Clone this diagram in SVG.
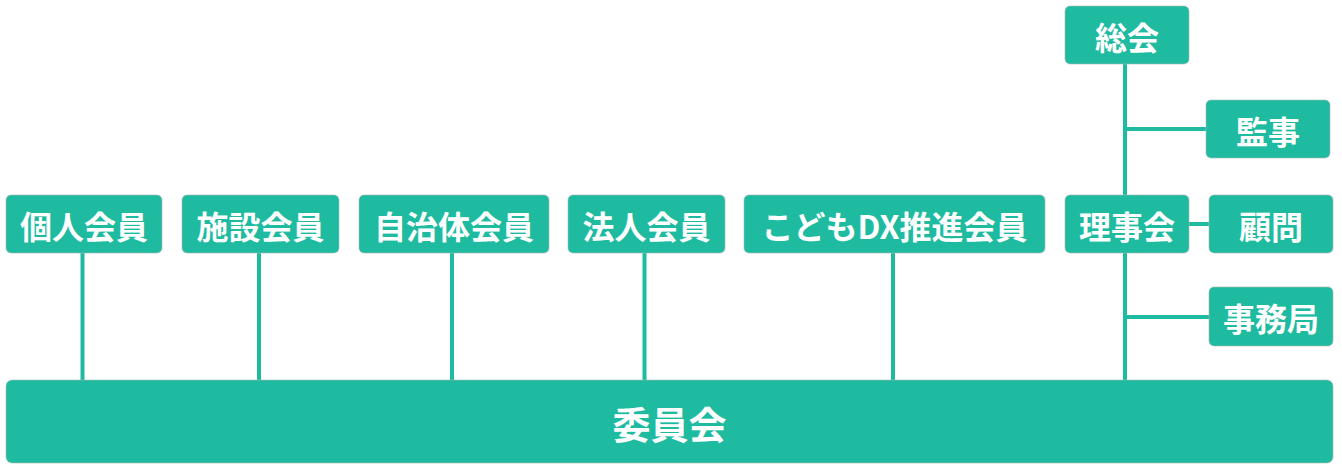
<svg xmlns="http://www.w3.org/2000/svg" width="1342" height="465" viewBox="0 0 1342 465">
<style>
.box{fill:#1ebba0;stroke:#a9b9b5;stroke-width:0.6}
.lbl{font-family:"Noto Sans CJK JP","Noto Sans",sans-serif;font-weight:bold;font-size:32px;fill:#ffffff;text-anchor:middle;dominant-baseline:central}
.big{font-size:38px}
.con{stroke:#1ebba0;stroke-width:4;fill:none}
</style>
<rect width="1342" height="465" fill="#ffffff"/>
<g id="connectors">
<line class="con" x1="82.5" y1="253" x2="82.5" y2="381"/>
<line class="con" x1="259" y1="253" x2="259" y2="381"/>
<line class="con" x1="452" y1="253" x2="452" y2="381"/>
<line class="con" x1="644.5" y1="253" x2="644.5" y2="381"/>
<line class="con" x1="893" y1="253" x2="893" y2="381"/>
<line class="con" x1="1125" y1="64" x2="1125" y2="381"/>
<line class="con" x1="1125" y1="129" x2="1206" y2="129"/>
<line class="con" x1="1189" y1="224" x2="1209" y2="224"/>
<line class="con" x1="1125" y1="317" x2="1209" y2="317"/>
</g>
<g id="n-kojin"><rect class="box" x="6" y="195" width="156" height="58" rx="5"/><text class="lbl" x="84" y="224.5">個人会員</text></g>
<g id="n-shisetsu"><rect class="box" x="182" y="195" width="157" height="58" rx="5"/><text class="lbl" x="260.5" y="224.5">施設会員</text></g>
<g id="n-jichitai"><rect class="box" x="359" y="195" width="190" height="58" rx="5"/><text class="lbl" x="454" y="224.5">自治体会員</text></g>
<g id="n-hojin"><rect class="box" x="568" y="195" width="157" height="58" rx="5"/><text class="lbl" x="646.5" y="224.5">法人会員</text></g>
<g id="n-kodomo"><rect class="box" x="744" y="195" width="301" height="58" rx="5"/><text class="lbl" x="894.5" y="224.5">こどもDX推進会員</text></g>
<g id="n-sokai"><rect class="box" x="1065" y="6" width="124" height="58" rx="5"/><text class="lbl" x="1127" y="35.5">総会</text></g>
<g id="n-kanji"><rect class="box" x="1206" y="100" width="124" height="58" rx="5"/><text class="lbl" x="1268" y="129.5">監事</text></g>
<g id="n-rijikai"><rect class="box" x="1065" y="195" width="124" height="58" rx="5"/><text class="lbl" x="1127" y="224.5">理事会</text></g>
<g id="n-komon"><rect class="box" x="1209" y="195" width="124" height="58" rx="5"/><text class="lbl" x="1271" y="224.5">顧問</text></g>
<g id="n-jimukyoku"><rect class="box" x="1209" y="287" width="124" height="59" rx="5"/><text class="lbl" x="1271" y="317">事務局</text></g>
<g id="n-iinkai"><rect class="box" x="6" y="380" width="1327" height="83" rx="6"/><text class="lbl big" x="669.5" y="422">委員会</text></g>
</svg>
